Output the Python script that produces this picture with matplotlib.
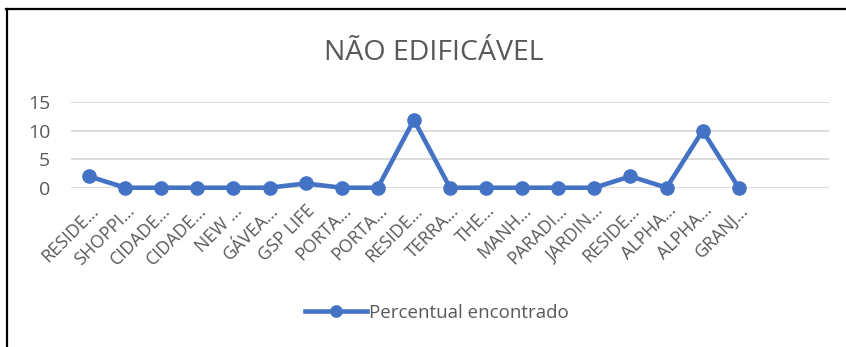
import matplotlib.pyplot as plt
from matplotlib.lines import Line2D

# loteamentos e percentual de lotes nao edificaveis
labels = ["RESIDE…", "SHOPPI…", "CIDADE…", "CIDADE…", "NEW …", "GÁVEA…",
          "GSP LIFE", "PORTA…", "PORTA…", "RESIDE…", "TERRA…", "THE…",
          "MANH…", "PARADI…", "JARDIN…", "RESIDE…", "ALPHA…", "ALPHA…",
          "GRANJ…"]
percentual = [2, 0, 0, 0, 0, 0, 0.75, 0, 0, 11.9, 0, 0, 0, 0, 0, 2, 0, 10, 0]
yticks = [0, 5, 10, 15]

blue = "#4472C4"
gray = "#595959"
plt.rcParams["font.family"] = ["Open Sans", "DejaVu Sans"]

W, H = 846, 347
fig = plt.figure(figsize=(W / 100, H / 100), dpi=100)

# borda do quadro
fig.add_artist(Line2D([6.5 / W, 6.5 / W], [0, 1 - 9 / H], color="black", lw=1.6,
                      transform=fig.transFigure))
fig.add_artist(Line2D([5.7 / W, 1], [1 - 9 / H, 1 - 9 / H], color="black", lw=1.6,
                      transform=fig.transFigure))

ax = fig.add_axes([71 / W, 1 - 187.7 / H, (829 - 71) / W, (187.7 - 102.3) / H])
x = range(len(percentual))
ax.plot(x, percentual, color=blue, lw=3.3, marker="o", ms=9.5,
        label="Percentual encontrado", clip_on=False, zorder=3)

ax.set_xlim(-0.5, 20.5)
ax.set_ylim(0, 15)
ax.set_yticks(yticks)
ax.set_yticklabels([str(v) for v in yticks], fontsize=14, color=gray)
ax.set_xticks(list(x))
ax.set_xticklabels(labels, rotation=45, ha="right", rotation_mode="anchor",
                   fontsize=12.8, color=gray)
ax.tick_params(axis="y", length=0, pad=15)
ax.tick_params(axis="x", length=0, pad=10)
ax.grid(axis="y", color="#d9d9d9", lw=1.3)
ax.set_axisbelow(True)
for s in ax.spines.values():
    s.set_visible(False)

fig.text(434 / W, 1 - 53 / H, "NÃO EDIFICÁVEL", ha="center", va="center",
         fontsize=20.5, color=gray)

fig.legend(loc="center", bbox_to_anchor=(437 / W, 1 - 313 / H), frameon=False,
           fontsize=13.5, labelcolor=gray, handlelength=3.3, handletextpad=0.1,
           markerscale=0.85)

fig.savefig("out.png", dpi=100, facecolor="white")
